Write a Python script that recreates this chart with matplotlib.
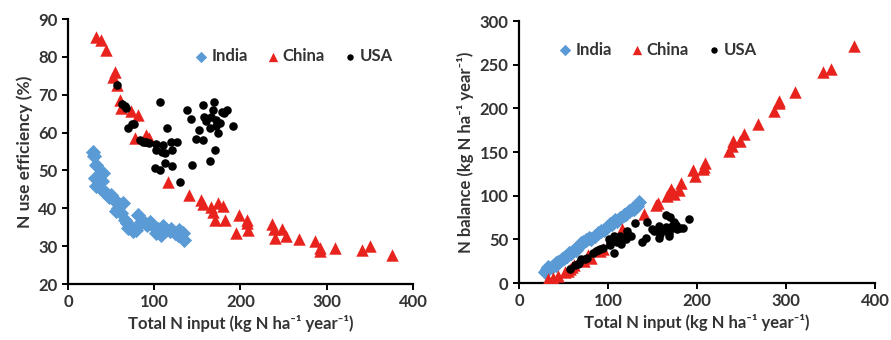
import matplotlib
matplotlib.use('Agg')
import matplotlib.pyplot as plt

# ---- data ----
# India: total N input, NUE (%), N balance
india_input = [29, 30, 33, 31, 37, 41, 33, 39, 41, 44, 50, 54, 60, 64, 56, 62, 66, 70, 75, 79,
               81, 85, 89, 95, 99, 102, 106, 110, 114, 118, 124, 129, 133, 135,
               48, 52, 58, 68, 72, 92, 104, 108, 120, 127]
india_nue = [55, 53.7, 51.5, 48, 48.8, 49.3, 45.8, 47.1, 44.6, 44, 43.6, 42.2, 40.9, 41.4, 39.2,
             38.7, 37, 34.8, 33.9, 34.3, 38.3, 36.5, 36.1, 36.5, 35.2, 33.5, 34.3, 35.2, 34.3,
             33.9, 33.5, 34.3, 33.5, 31.7,
             43, 42.5, 40, 36, 35, 35.5, 34.5, 33, 34.5, 33]
india_bal = [13.1, 13.9, 16.0, 16.1, 18.9, 20.8, 17.9, 20.6, 22.7, 24.6, 28.2, 31.2, 35.5, 37.5,
             34.0, 38.0, 41.6, 45.6, 49.6, 51.9, 50.0, 54.0, 56.9, 60.3, 64.2, 67.8, 69.6, 71.3,
             74.9, 78.0, 82.5, 84.8, 88.4, 92.2,
             27.4, 29.9, 34.8, 43.5, 46.8, 59.3, 68.1, 72.4, 78.6, 85.1]

# China
china_input = [33, 38, 44, 55, 52, 57, 60, 62, 73, 81, 78, 91, 94, 116, 140, 154, 156, 166, 168,
               174, 180, 171, 182, 198, 207, 195, 209, 208, 236, 239, 240, 248, 253, 268, 286,
               292, 292, 310, 341, 350, 376]
china_nue = [85.3, 84.5, 81.8, 76, 74.8, 72.6, 68.6, 66.5, 65.6, 64.7, 58.5, 59.4, 58.5, 46.9,
             43.6, 42.3, 41.2, 40.3, 39, 41.4, 40.7, 36.8, 37, 38.3, 37, 33.5, 34.3, 36.1, 35.8,
             34.5, 32.1, 34.5, 32.6, 31.9, 31.3, 28.6, 29.5, 29.5, 29.1, 30, 27.7]
china_bal = [4.9, 5.9, 8.0, 13.2, 13.1, 15.6, 18.8, 20.8, 25.1, 28.6, 32.4, 36.9, 39.0, 61.6,
             79.0, 88.9, 91.7, 99.1, 102.5, 102.0, 106.7, 108.1, 114.7, 122.2, 130.4, 129.7,
             137.3, 132.9, 151.5, 156.5, 163.0, 162.4, 170.5, 182.5, 196.5, 208.5, 205.9,
             218.6, 241.8, 245, 271.8]

# USA
usa_input = [57, 63, 66, 67, 70, 74, 76, 83, 87, 89, 91, 94, 102, 102, 107, 110, 112, 115, 120,
             126, 121, 101, 107, 113, 121, 109, 130, 138, 143, 144, 149, 152, 157, 158, 157,
             166, 168, 169, 165, 170, 165, 172, 174, 176, 178, 181, 184, 191, 160, 172]
usa_nue = [72.6, 67.6, 67.0, 66.5, 61.3, 62.4, 62.3, 58.1, 57.6, 57.6, 57.4, 57.2, 57.0, 55.4,
           68.0, 56.8, 54.6, 61.2, 57.6, 57.6, 55.4, 50.6, 50.1, 51.9, 51.2, 55.0, 47.0, 66.0,
           63.6, 51.5, 58.2, 60.7, 67.3, 64.2, 58.1, 64.2, 66.0, 68.2, 52.6, 55.3, 61.2, 61.8,
           60.0, 62.5, 65.5, 65.1, 66.0, 61.8, 63.0, 63.4]
usa_bal = [15.6, 20.4, 21.8, 22.4, 27.1, 27.8, 28.7, 34.8, 36.9, 37.7, 38.8, 40.2, 43.9, 45.5,
           34.2, 47.5, 50.8, 44.6, 50.9, 53.4, 54.0, 49.9, 53.4, 54.4, 59.0, 49.1, 68.9, 46.9,
           52.1, 69.8, 62.3, 59.7, 51.3, 56.6, 65.8, 59.4, 57.1, 53.7, 78.2, 76.0, 64.0, 65.7,
           69.6, 66.0, 61.4, 63.2, 62.6, 73.0, 59.2, 63.0]

BLUE = '#5B9BD5'
RED = '#E8231E'
TXT = '#333333'
XLABEL = 'Total N input (kg N ha\u207b\u00b9 year\u207b\u00b9)'

plt.rcParams['font.family'] = ['Lato', 'DejaVu Sans']
plt.rcParams['font.weight'] = 'bold'


def style_axes(ax):
    for s in ['top', 'right']:
        ax.spines[s].set_visible(False)
    for s in ['left', 'bottom']:
        ax.spines[s].set_linewidth(1.6)
        ax.spines[s].set_color('black')
    ax.tick_params(direction='out', length=4, width=1.4, colors='black',
                   labelcolor=TXT, labelsize=12)
    for lab in ax.get_xticklabels() + ax.get_yticklabels():
        lab.set_fontweight('bold')


def draw(ax, iy, cy, uy):
    ax.scatter(india_input, iy, marker='D', s=60, color=BLUE, linewidths=0, label='India', zorder=3)
    ax.scatter(china_input, cy, marker='^', s=80, color=RED, linewidths=0, label='China', zorder=3)
    ax.scatter(usa_input, uy, marker='o', s=38, color='black', linewidths=0, label='USA', zorder=4)


fig = plt.figure(figsize=(8.91, 3.4), dpi=100)
ax1 = fig.add_axes([0.0763, 0.1647, 0.3872, 0.779])
ax2 = fig.add_axes([0.5825, 0.1676, 0.3996, 0.7706])

draw(ax1, india_nue, china_nue, usa_nue)
ax1.set_xlim(0, 400)
ax1.set_ylim(20, 90)
ax1.set_xticks([0, 100, 200, 300, 400])
ax1.set_yticks(range(20, 91, 10))
ax1.set_ylabel('N use efficiency (%)', fontsize=12.5, color=TXT, fontweight='bold', labelpad=4)

draw(ax2, india_bal, china_bal, usa_bal)
ax2.set_xlim(0, 400)
ax2.set_ylim(0, 300)
ax2.set_xticks([0, 100, 200, 300, 400])
ax2.set_yticks(range(0, 301, 50))
ax2.set_ylabel('N balance (kg N ha\u207b\u00b9 year\u207b\u00b9)', fontsize=12, color=TXT,
               fontweight='bold', labelpad=4)

for ax, anchor in [(ax1, (0.65, 0.86)), (ax2, (0.385, 0.89))]:
    ax.set_xlabel(XLABEL, fontsize=12, color=TXT, fontweight='bold', labelpad=3)
    style_axes(ax)
    leg = ax.legend(loc='center', bbox_to_anchor=anchor, ncol=3, frameon=False,
                    handletextpad=0.0, handlelength=1.2, columnspacing=0.9, markerscale=0.75,
                    prop={'weight': 'bold', 'size': 12})
    for t in leg.get_texts():
        t.set_color(TXT)

fig.savefig('out.png', dpi=100)
